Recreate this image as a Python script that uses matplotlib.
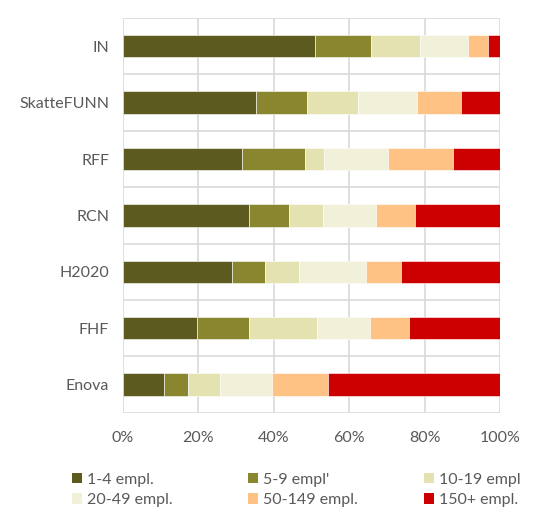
import matplotlib.pyplot as plt
from matplotlib.patches import Patch
import numpy as np

plt.rcParams['font.family'] = ['Lato', 'DejaVu Sans']

# categories from top to bottom
programs = ['IN', 'SkatteFUNN', 'RFF', 'RCN', 'H2020', 'FHF', 'Enova']
size_classes = ['1-4 empl.', "5-9 empl'", '10-19 empl', '20-49 empl.', '50-149 empl.', '150+ empl.']
colors = ['#5C5A1F', '#89862F', '#E3E2B0', '#F1F0D9', '#FFC285', '#CC0000']

# shares (%) per size class, one list per class, in program order
empl_1_4 = [51.0, 35.3, 31.6, 33.5, 28.8, 19.6, 10.9]
empl_5_9 = [14.9, 13.4, 16.6, 10.4, 8.9, 13.9, 6.4]
empl_10_19 = [12.9, 13.7, 5.2, 9.2, 9.0, 18.0, 8.5]
empl_20_49 = [12.8, 15.7, 16.8, 14.1, 17.7, 13.9, 13.8]
empl_50_149 = [5.2, 11.6, 17.2, 10.3, 9.4, 10.4, 14.9]
empl_150 = [3.2, 10.3, 12.6, 22.5, 26.2, 24.2, 45.5]

series = [empl_1_4, empl_5_9, empl_10_19, empl_20_49, empl_50_149, empl_150]

fig = plt.figure(figsize=(5.35, 5.09), dpi=100)
ax = fig.add_axes([0.23, 0.189, 0.7046, 0.7756])

y = np.arange(len(programs))
left = np.zeros(len(programs))
for vals, c, lab in zip(series, colors, size_classes):
  vals = np.array(vals)
  ax.barh(y, vals, left=left, height=0.4, color=c, label=lab,
          edgecolor='white', linewidth=0.4, zorder=3)
  left += vals

ax.set_xlim(0, 100)
ax.set_ylim(len(programs) - 0.5, -0.5)
ax.set_yticks(y)
ax.set_yticklabels(programs)
ax.set_yticks(np.arange(len(programs) + 1) - 0.5, minor=True)
ax.set_xticks([0, 20, 40, 60, 80, 100])
ax.set_xticklabels([f'{v}%' for v in [0, 20, 40, 60, 80, 100]])

ax.grid(True, axis='x', which='major', color='#D9D9D9', linewidth=1.2, zorder=0)
ax.grid(True, axis='y', which='minor', color='#D9D9D9', linewidth=1.2, zorder=0)
for s in ax.spines.values():
  s.set_visible(False)
ax.tick_params(axis='both', which='both', length=0, labelsize=11.5, labelcolor='#595959')
ax.tick_params(axis='x', pad=13)
ax.tick_params(axis='y', pad=10)

# legend: three columns of equal width, filled row by row
col_x = [72, 248, 424]
for k, x0 in enumerate(col_x):
  idx = [k, k + 3]
  hs = [Patch(facecolor=colors[i]) for i in idx]
  leg = fig.legend(hs, [size_classes[i] for i in idx], loc='center left',
                   bbox_to_anchor=(x0 / 535, (509 - 490) / 509), frameon=False,
                   fontsize=11.5, labelcolor='#595959', handlelength=0.6, handleheight=0.6,
                   handletextpad=0.35, labelspacing=0.4, borderpad=0, borderaxespad=0)

fig.savefig('out.png', dpi=100)
